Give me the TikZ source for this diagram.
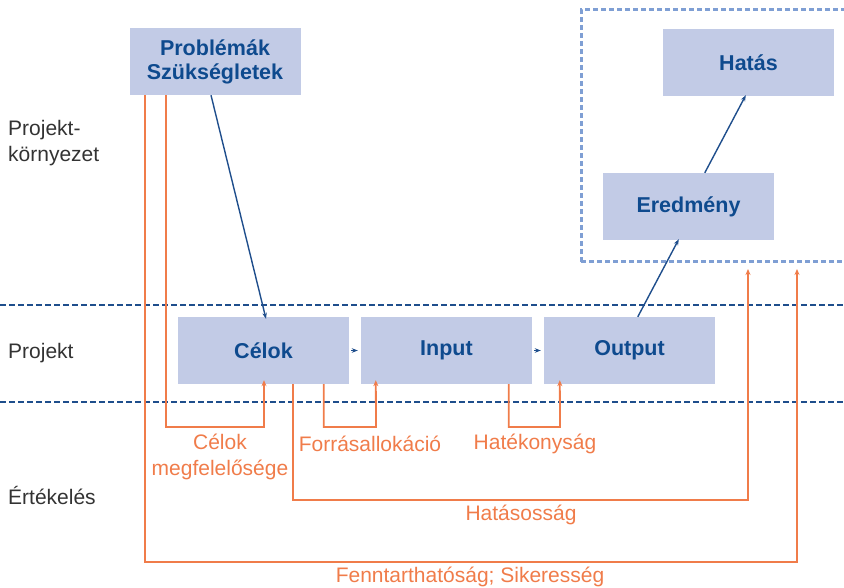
\documentclass[tikz,border=0pt]{standalone}
\usepackage{fontspec}
\setmainfont{Liberation Sans}
\usetikzlibrary{arrows.meta,calc}
\definecolor{boxfill}{HTML}{C2CBE6}
\definecolor{boxtext}{HTML}{0E4A8E}
\definecolor{orng}{HTML}{F07C4A}
\definecolor{dline}{HTML}{1F4E8C}
\definecolor{frame}{HTML}{7F9FD4}
\definecolor{lbl}{HTML}{333333}
\begin{document}
\begin{tikzpicture}[x=1pt,y=-1pt,
  box/.style={fill=boxfill,minimum width=171pt,minimum height=67pt,inner sep=0pt,
    text=boxtext,font=\fontsize{21.5}{24}\selectfont\bfseries,align=center},
  barr/.style={draw=dline,line width=1.4pt,-{Stealth[length=6pt,width=4.5pt]}},
  oline/.style={draw=orng,line width=1.8pt},
  oarr/.style={oline,-{Stealth[length=6pt,width=5pt]}},
  olbl/.style={text=orng,font=\fontsize{21}{26}\selectfont,align=center,inner sep=0pt},
  sidelbl/.style={text=lbl,font=\fontsize{21}{26}\selectfont,align=left,anchor=west,inner sep=0pt},
  sep/.style={draw=dline,line width=1.5pt,dash pattern=on 6pt off 3pt}]
\useasboundingbox (0,0) rectangle (844,588);
% frame
\draw[draw=frame,line width=3pt,dash pattern=on 5pt off 3pt] (581,262) -- (581,10) -- (850,10);
\draw[draw=frame,line width=3pt,dash pattern=on 5pt off 3pt] (581,262) -- (850,262);
% separators
\draw[sep] (0,305) -- (844,305);
\draw[sep] (0,402) -- (844,402);
% boxes
\node[box] (prob) at (215,61.5) {Problémák\\Szükségletek};
\node[box] (hatas) at (748.5,62.5) {Hatás};
\node[box] (ered) at (688.5,206.5) {Eredmény};
\node[box] (celok) at (263.5,350.5) {Célok};
\node[box] (input) at (446.5,350.5) {Input};
\node[box] (output) at (629.5,350.5) {Output};
% side labels
\node[sidelbl] (l1) at (8,143) {Projekt-\\környezet};
\node[sidelbl] (l2) at (8,353) {Projekt};
\node[sidelbl] (l3) at (8,495) {Értékelés};
% blue arrows
\draw[barr] ([xshift=-4pt]prob.south) -- ([xshift=2.5pt,yshift=-2pt]celok.north);
\draw[barr] ([xshift=2pt]celok.east) -- ([xshift=-3pt]input.west);
\draw[barr] ([xshift=2pt]input.east) -- ([xshift=-3pt]output.west);
\draw[barr] ([xshift=94pt]output.north west) -- ([xshift=76pt,yshift=1pt]ered.south west);
\draw[barr] ([xshift=102pt]ered.north west) -- ([xshift=83pt,yshift=1pt]hatas.south west);
% orange
\coordinate (h1) at (748,269);
\coordinate (f1) at (797,269);
\draw[oarr] ([xshift=16pt]prob.south west) |- (797,562) -- (f1);
\draw[oarr] ([xshift=37pt]prob.south west) |- (264,427) -- ([xshift=0.5pt,yshift=4pt]celok.south);
\draw[oarr] ([xshift=115pt]celok.south west) |- (748,500) -- (h1);
\draw[oarr] ([xshift=146pt]celok.south west) |- (376,427) -- ([xshift=15pt,yshift=4pt]input.south west);
\draw[oarr] ([xshift=148pt]input.south west) |- (560,427) -- ([xshift=16pt,yshift=4pt]output.south west);
% orange labels
\node[olbl] (t1) at (220,457) {Célok\\megfelelősége};
\node[olbl] (t2) at (370,444) {Forrásallokáció};
\node[olbl] (t3) at (535,444) {Hatékonyság};
\node[olbl] (t4) at (521,515) {Hatásosság};
\node[olbl] (t5) at (470,577) {Fenntarthatóság; Sikeresség};
\end{tikzpicture}
\end{document}
